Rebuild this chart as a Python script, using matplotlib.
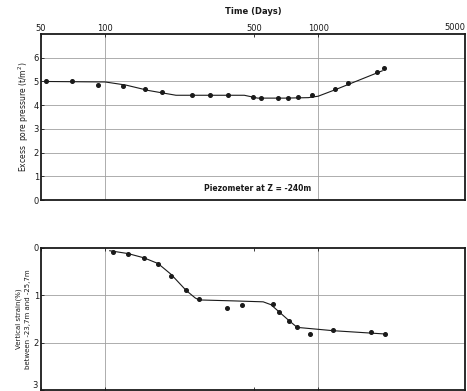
import numpy as np
import matplotlib.pyplot as plt
from matplotlib.ticker import FixedLocator, NullLocator

# ── data ─────────────────────────────────────────────────────────────────
# excess pore pressure, piezometer at Z = -240 m
pp_days  = [53, 70, 93, 121, 154, 185, 256, 311, 378, 495, 540, 649, 723, 805, 937, 1200, 1380, 1890, 2040]
pp_vals  = [5.0, 5.0, 4.87, 4.82, 4.68, 4.55, 4.42, 4.42, 4.42, 4.34, 4.3, 4.32, 4.32, 4.36, 4.42, 4.68, 4.94, 5.4, 5.57]
pp_fit_d = [53, 100, 125, 160, 215, 300, 450, 520, 700, 900, 1000, 1200, 1500, 2000]
pp_fit_v = [5.0, 4.98, 4.85, 4.62, 4.42, 4.42, 4.42, 4.3, 4.3, 4.32, 4.38, 4.65, 5.0, 5.45]

# vertical strain between -23,7 m and -25,7 m
st_days  = [109, 128, 152, 177, 204, 240, 276, 374, 440, 615, 656, 731, 797, 917, 1175, 1774, 2064]
st_vals  = [0.09, 0.13, 0.22, 0.34, 0.59, 0.9, 1.09, 1.28, 1.2, 1.18, 1.35, 1.54, 1.68, 1.81, 1.74, 1.77, 1.81]
st_fit_d = [105, 128, 152, 177, 204, 240, 265, 276, 400, 552, 600, 731, 797, 1175, 2064]
st_fit_v = [0.06, 0.12, 0.21, 0.33, 0.56, 0.9, 1.06, 1.1, 1.12, 1.14, 1.2, 1.54, 1.68, 1.75, 1.82]

top_ticks = [50, 100, 500, 1000, 5000]

INK  = '#1a1a1a'
GRID = '#a0a0a0'

plt.rcParams['font.family'] = ['DejaVu Sans']

fig = plt.figure(figsize=(4.67, 3.91), dpi=100)
ax1 = fig.add_axes([0.088, 0.488, 0.908, 0.425])
ax2 = fig.add_axes([0.088, 0.003, 0.908, 0.363])

for ax in (ax1, ax2):
    ax.set_xscale('log')
    ax.set_xlim(50, 4900)
    ax.xaxis.set_major_locator(FixedLocator([t for t in top_ticks if t < 4900]))
    ax.xaxis.set_minor_locator(NullLocator())
    ax.tick_params(axis='both', direction='in', length=2, width=0.6,
                   labelsize=6, colors=INK, pad=1.5)
    for s in ax.spines.values():
        s.set_linewidth(1.3)
        s.set_color(INK)
    for xv in (100, 1000):
        ax.axvline(xv, color=GRID, lw=0.6, zorder=0)

# ── top panel ─────────────────────────────────────────────────────────────
ax1.set_ylim(0, 7)
ax1.set_yticks([0, 1, 2, 3, 4, 5, 6])
for yv in range(1, 7):
    ax1.axhline(yv, color=GRID, lw=0.6, zorder=0)
ax1.plot(pp_fit_d, pp_fit_v, color=INK, lw=0.8)
ax1.plot(pp_days, pp_vals, 'o', color=INK, ms=2.6, mec=INK)
ax1.xaxis.tick_top()
ax1.xaxis.set_label_position('top')
ax1.set_xticklabels([str(t) for t in top_ticks if t < 4900])
ax1.tick_params(axis='x', pad=1)
# the 5000 label sits at the right edge of the frame
ax1.text(1.0, 1.012, str(top_ticks[-1]), transform=ax1.transAxes, fontsize=6,
         ha='right', va='bottom', color=INK)
ax1.set_xlabel('Time (Days)', fontsize=6, fontweight='bold', labelpad=7, color=INK)
ax1.set_ylabel('Excess  pore pressure (t/m$^2$)', fontsize=5.5, labelpad=2, color=INK)
ax1.text(520, 0.3, 'Piezometer at Z = -240m', fontsize=5.5, fontweight='bold',
         ha='center', va='bottom', color=INK)

# ── bottom panel ──────────────────────────────────────────────────────────
ax2.set_ylim(3, 0)
ax2.set_yticks([0, 1, 2, 3])
ax2.set_yticklabels(['0', '1', '2', ''])
for yv in (1, 2):
    ax2.axhline(yv, color=GRID, lw=0.6, zorder=0)
ax2.plot(st_fit_d, st_fit_v, color=INK, lw=0.8)
ax2.plot(st_days, st_vals, 'o', color=INK, ms=2.6, mec=INK)
ax2.tick_params(axis='x', labelbottom=False, top=True)
ax2.text(-0.008, 0.0, '3', transform=ax2.transAxes, fontsize=6, ha='right',
         va='bottom', color=INK)
ax2.set_ylabel('Vertical strain(%)\nbetween -23,7m and -25,7m', fontsize=5, labelpad=2,
               color=INK, linespacing=1.6)

fig.savefig('out.png', dpi=100)
